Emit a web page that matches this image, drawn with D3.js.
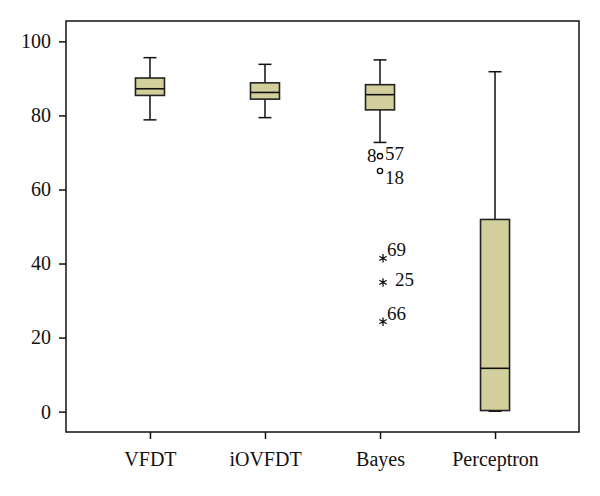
<!DOCTYPE html>
<html>
<head>
<meta charset="utf-8">
<script src="https://cdn.jsdelivr.net/npm/d3@7"></script>
<style>
  body { margin: 0; background: #fff; }
  text { font-family: "Liberation Serif", "DejaVu Serif", serif; fill: #111; }
</style>
</head>
<body>
<svg id="chart" width="600" height="496"></svg>
<script>
// box stats
const categories = ['VFDT', 'iOVFDT', 'Bayes', 'Perceptron'];
const whiskerLow = [78.8, 79.4, 72.7, 0.1];
const q1 = [85.4, 84.4, 81.5, 0.3];
const median = [87.2, 86.2, 85.6, 11.7];
const q3 = [90.1, 88.8, 88.3, 51.9];
const whiskerHigh = [95.6, 93.8, 95.0, 91.8];

// outliers (only Bayes has them)
const outlierCat = ['Bayes', 'Bayes', 'Bayes', 'Bayes', 'Bayes'];
const outlierVal = [69.0, 65.0, 41.4, 34.9, 24.3];
const outlierKind = ['circle', 'circle', 'star', 'star', 'star'];
const outlierLabel = ['57', '18', '69', '25', '66'];
const yTicks = [0, 20, 40, 60, 80, 100];

const svg = d3.select('#chart');
const mLeft = 66, mRight = 579, mTop = 21, mBottom = 432;

const x = d3.scalePoint().domain(categories).range([mLeft, mRight]).padding(0.73);
const y = d3.scaleLinear().domain([-5.5, 105.5]).range([mBottom, mTop]);

const boxW = 29, capW = 13;
const data = categories.map((c, i) => ({
  c, lo: whiskerLow[i], q1: q1[i], med: median[i], q3: q3[i], hi: whiskerHigh[i]
}));

// frame
svg.append('rect')
  .attr('x', mLeft).attr('y', mTop)
  .attr('width', mRight - mLeft).attr('height', mBottom - mTop)
  .attr('fill', 'none').attr('stroke', '#111').attr('stroke-width', 1.5);

// axes
const yAxis = svg.append('g')
  .attr('transform', `translate(${mLeft},0)`)
  .call(d3.axisLeft(y).tickValues(yTicks).tickSize(7).tickPadding(8));
const xAxis = svg.append('g')
  .attr('transform', `translate(0,${mBottom})`)
  .call(d3.axisBottom(x).tickSize(7).tickPadding(13));

[yAxis, xAxis].forEach(a => {
  a.select('.domain').remove();
  a.selectAll('line').attr('stroke', '#111').attr('stroke-width', 1.5);
  a.selectAll('text').style('font-size', '20px').attr('fill', '#111');
});

// boxes
const g = svg.append('g').selectAll('g').data(data).join('g')
  .attr('transform', d => `translate(${x(d.c)},0)`);

g.append('line')
  .attr('y1', d => y(d.hi)).attr('y2', d => y(d.q3))
  .attr('stroke', '#111').attr('stroke-width', 1.5);
g.append('line')
  .attr('y1', d => y(d.q1)).attr('y2', d => y(d.lo))
  .attr('stroke', '#111').attr('stroke-width', 1.5);
g.append('line')
  .attr('x1', -capW / 2).attr('x2', capW / 2)
  .attr('y1', d => y(d.hi)).attr('y2', d => y(d.hi))
  .attr('stroke', '#111').attr('stroke-width', 1.5);
g.append('line')
  .attr('x1', -capW / 2).attr('x2', capW / 2)
  .attr('y1', d => y(d.lo)).attr('y2', d => y(d.lo))
  .attr('stroke', '#111').attr('stroke-width', 1.5);

g.append('rect')
  .attr('x', -boxW / 2).attr('width', boxW)
  .attr('y', d => y(d.q3)).attr('height', d => y(d.q1) - y(d.q3))
  .attr('fill', '#d3cf9d').attr('stroke', '#222').attr('stroke-width', 1.6);
g.append('line')
  .attr('x1', -boxW / 2).attr('x2', boxW / 2)
  .attr('y1', d => y(d.med)).attr('y2', d => y(d.med))
  .attr('stroke', '#111').attr('stroke-width', 1.6);

// outliers
const out = outlierVal.map((v, i) => ({ c: outlierCat[i], v, kind: outlierKind[i], label: outlierLabel[i] }));
const og = svg.append('g');

out.forEach(d => {
  const cx = x(d.c), cy = y(d.v);
  if (d.kind === 'circle') {
    og.append('circle').attr('cx', cx).attr('cy', cy).attr('r', 2.6)
      .attr('fill', 'none').attr('stroke', '#111').attr('stroke-width', 1.4);
  } else {
    og.append('path')
      .attr('transform', `translate(${cx + 3},${cy})`)
      .attr('d', d3.symbol(d3.symbolAsterisk, 50)())
      .attr('fill', 'none').attr('stroke', '#111').attr('stroke-width', 1.3);
  }
});

// outlier labels (placement follows the picture)
const lab = (txt, dx, dy, i) => og.append('text')
  .attr('x', x(out[i].c) + dx).attr('y', y(out[i].v) + dy)
  .style('font-size', '19px').text(txt);
lab('8', -13, 6, 0);
lab(outlierLabel[0], 5, 4, 0);
lab(outlierLabel[1], 5, 13, 1);
lab(outlierLabel[2], 7, -2, 2);
lab(outlierLabel[3], 15, 4, 3);
lab(outlierLabel[4], 7, -2, 4);
</script>
</body>
</html>
